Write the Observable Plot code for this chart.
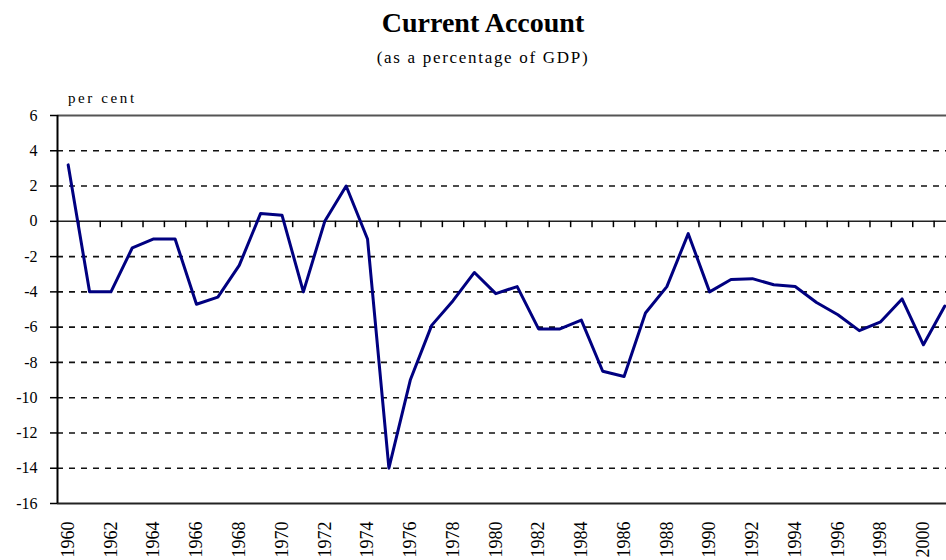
<!DOCTYPE html>
<html>
<head>
<meta charset="utf-8">
<script src="https://cdn.jsdelivr.net/npm/d3@7"></script>
<script src="https://cdn.jsdelivr.net/npm/@observablehq/plot@0.6"></script>
<style>
  html, body { margin: 0; padding: 0; background: #fff; overflow: hidden; width: 946px; height: 560px; }
  #header { position: relative; width: 946px; height: 110px; font-family: "Liberation Serif", "Times New Roman", serif; color: #000; }
  #title { position: absolute; left: 483px; top: 7px; transform: translateX(-50%); font-size: 28px; font-weight: bold; white-space: nowrap; }
  #subtitle { position: absolute; left: 483px; top: 48px; transform: translateX(-50%); font-size: 17px; letter-spacing: 1.7px; white-space: nowrap; }
  #unit { position: absolute; left: 68px; top: 90px; font-size: 15px; letter-spacing: 2.6px; white-space: nowrap; }
  #chart { position: relative; width: 955px; }
  #chart svg { max-width: none !important; width: 955px !important; }
  #chart svg, #chart svg text, #chart svg g { font-family: "Liberation Serif", "Times New Roman", serif !important; }
</style>
</head>
<body>
<div id="header">
  <div id="title">Current Account</div>
  <div id="subtitle">(as a percentage of GDP)</div>
  <div id="unit">per cent</div>
</div>
<div id="chart"></div>
<script>
const years = [1960,1961,1962,1963,1964,1965,1966,1967,1968,1969,
               1970,1971,1972,1973,1974,1975,1976,1977,1978,1979,
               1980,1981,1982,1983,1984,1985,1986,1987,1988,1989,
               1990,1991,1992,1993,1994,1995,1996,1997,1998,1999,
               2000,2001];
const currentAccount = [3.2,-4.0,-4.0,-1.5,-1.0,-1.0,-4.7,-4.3,-2.5,0.45,
                        0.35,-4.0,0.0,2.0,-1.0,-14.0,-9.0,-5.9,-4.5,-2.9,
                        -4.1,-3.7,-6.1,-6.1,-5.6,-8.5,-8.8,-5.2,-3.7,-0.7,
                        -4.0,-3.3,-3.25,-3.6,-3.7,-4.6,-5.3,-6.2,-5.7,-4.4,
                        -7.0,-4.8];
const yTicks = [6,4,2,0,-2,-4,-6,-8,-10,-12,-14,-16];
const dashedLevels = [4,2,-2,-4,-6,-8,-10,-12,-14];
const xTickLabels = [1960,1962,1964,1966,1968,1970,1972,1974,1976,1978,1980,
                     1982,1984,1986,1988,1990,1992,1994,1996,1998,2000];

const data = years.map((y, i) => ({year: y, value: currentAccount[i]}));
const boundaries = years.slice(0, -1).map(y => y + 0.5);
const xMin = years[0] - 0.5, xMax = years[years.length - 1] + 0.5;
const serif = "'Liberation Serif', 'Times New Roman', serif";

const chart = Plot.plot({
  width: 955,
  height: 450,
  marginTop: 5,
  marginBottom: 57,
  marginLeft: 57,
  marginRight: 0,
  style: {fontFamily: serif, color: "#000", background: "#fff", overflow: "visible", maxWidth: "none"},
  x: {domain: [xMin, xMax]},
  y: {domain: [-16, 6]},
  marks: [
    Plot.ruleY(dashedLevels, {stroke: "#111", strokeWidth: 1.6, strokeDasharray: "6,6"}),
    Plot.ruleY([6], {stroke: "#555", strokeWidth: 1.8}),
    Plot.ruleY([-16], {stroke: "#222", strokeWidth: 2}),
    Plot.ruleY([0], {stroke: "#222", strokeWidth: 1.5}),
    Plot.ruleX(boundaries, {x: d => d, y1: 0, y2: -0.36, stroke: "#000", strokeWidth: 1.5}),
    Plot.ruleX([xMin], {y1: -16, y2: 6, stroke: "#000", strokeWidth: 2}),
    Plot.axisY({ticks: yTicks, tickSize: 7, tickPadding: 13, tickFormat: d => String(d), fontSize: 16, fontFamily: serif, label: null, strokeWidth: 1.5}),
    Plot.axisX({ticks: xTickLabels, tickSize: 0, tickPadding: 18, tickRotate: -90, tickFormat: d => String(d), fontSize: 18, fontFamily: serif, label: null}),
    Plot.line(data, {x: "year", y: "value", stroke: "#000080", strokeWidth: 3, strokeLinejoin: "round"})
  ]
});
document.getElementById("chart").appendChild(chart);
</script>
</body>
</html>
